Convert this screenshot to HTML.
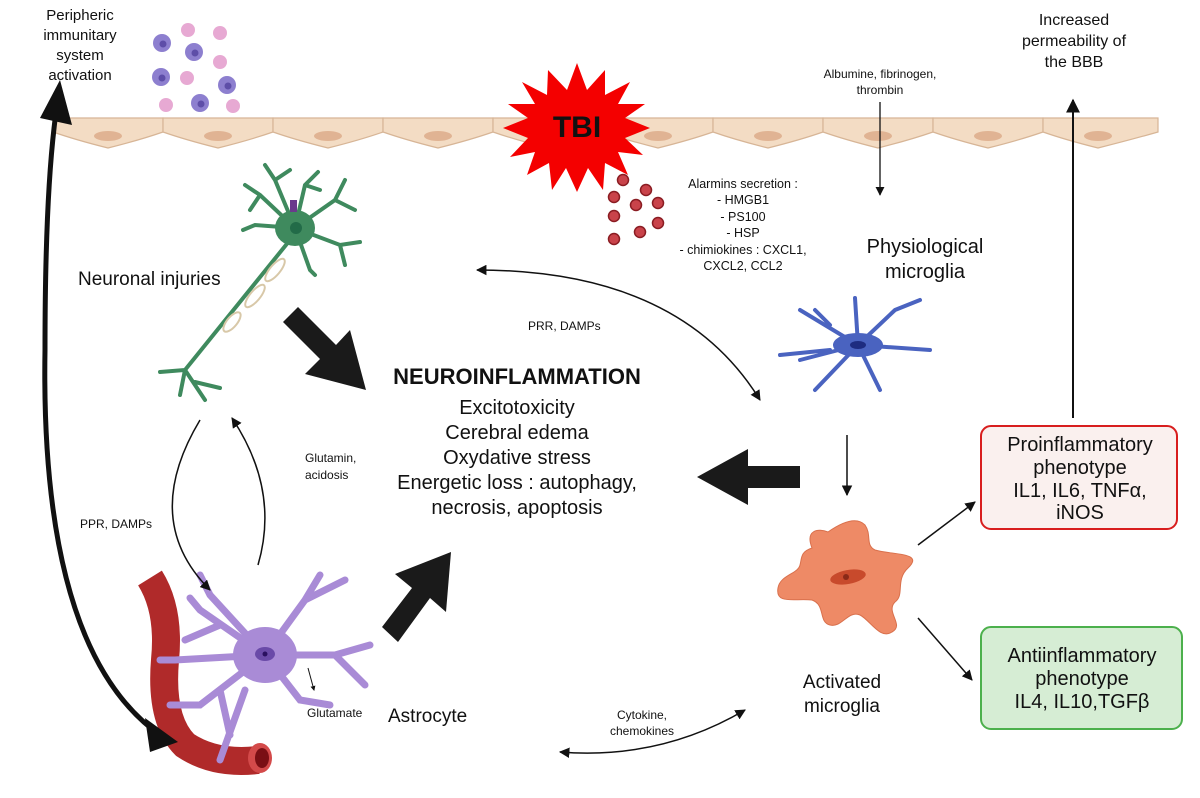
<!DOCTYPE html>
<html><head><meta charset="utf-8"><style>
html,body{margin:0;padding:0;background:#fff}
svg{display:block}
text{font-family:"Liberation Sans",sans-serif;fill:#111}
</style></head><body>
<svg width="1200" height="798" viewBox="0 0 1200 798" xmlns="http://www.w3.org/2000/svg">
<defs>
<marker id="a" viewBox="0 0 10 10" refX="9" refY="5" markerWidth="7" markerHeight="7" orient="auto-start-reverse"><path d="M0,0L10,5L0,10z" fill="#111"/></marker>
<marker id="ab" viewBox="0 0 10 10" refX="8" refY="5" markerWidth="5" markerHeight="5" orient="auto-start-reverse"><path d="M0,0L10,5L0,10z" fill="#111"/></marker>
</defs>

<!-- membrane -->
<g fill="#f3dcc4" stroke="#d7b596" stroke-width="1.2">
<path d="M53,118 H163 V132 Q140,140 108,148 Q76,140 53,132 Z"/>
<path d="M163,118 H273 V132 Q250,140 218,148 Q186,140 163,132 Z"/>
<path d="M273,118 H383 V132 Q360,140 328,148 Q296,140 273,132 Z"/>
<path d="M383,118 H493 V132 Q470,140 438,148 Q406,140 383,132 Z"/>
<path d="M493,118 H603 V132 Q580,140 548,148 Q516,140 493,132 Z"/>
<path d="M603,118 H713 V132 Q690,140 658,148 Q626,140 603,132 Z"/>
<path d="M713,118 H823 V132 Q800,140 768,148 Q736,140 713,132 Z"/>
<path d="M823,118 H933 V132 Q910,140 878,148 Q846,140 823,132 Z"/>
<path d="M933,118 H1043 V132 Q1020,140 988,148 Q956,140 933,132 Z"/>
<path d="M1043,118 H1158 V132 Q1130,140 1098,148 Q1066,140 1043,132 Z"/>
</g>
<g fill="#e0b393">
<ellipse cx="108" cy="136" rx="14" ry="5"/><ellipse cx="218" cy="136" rx="14" ry="5"/><ellipse cx="328" cy="136" rx="14" ry="5"/><ellipse cx="438" cy="136" rx="14" ry="5"/><ellipse cx="658" cy="136" rx="14" ry="5"/><ellipse cx="768" cy="136" rx="14" ry="5"/><ellipse cx="878" cy="136" rx="14" ry="5"/><ellipse cx="988" cy="136" rx="14" ry="5"/><ellipse cx="1098" cy="136" rx="14" ry="5"/>
</g>

<!-- immune cells -->
<g>
<g fill="#8d7fcf"><circle cx="162" cy="43" r="9"/><circle cx="194" cy="52" r="9"/><circle cx="161" cy="77" r="9"/><circle cx="227" cy="85" r="9"/><circle cx="200" cy="103" r="9"/></g>
<g fill="#5e4ea8"><circle cx="163" cy="44" r="3.5"/><circle cx="195" cy="53" r="3.5"/><circle cx="162" cy="78" r="3.5"/><circle cx="228" cy="86" r="3.5"/><circle cx="201" cy="104" r="3.5"/></g>
<g fill="#e7a9d3"><circle cx="188" cy="30" r="7"/><circle cx="220" cy="33" r="7"/><circle cx="220" cy="62" r="7"/><circle cx="187" cy="78" r="7"/><circle cx="166" cy="105" r="7"/><circle cx="233" cy="106" r="7"/></g>
</g>

<!-- TBI star -->
<polygon fill="#f40000" points="577,63 587,90 605,70 605,95 630,82 618,104 645,104 625,118 650,128 625,138 643,155 618,152 628,175 605,163 603,190 588,168 577,192 566,168 552,190 549,163 527,175 535,152 510,157 528,138 503,128 528,118 508,104 535,104 522,82 547,95 548,70 567,90"/>
<text x="577" y="137" font-size="30" font-weight="bold" text-anchor="middle">TBI</text>

<!-- red dots -->
<g fill="#c9434a" stroke="#8a1c22" stroke-width="1.5">
<circle cx="623" cy="180" r="5.5"/><circle cx="614" cy="197" r="5.5"/><circle cx="646" cy="190" r="5.5"/><circle cx="636" cy="205" r="5.5"/><circle cx="658" cy="203" r="5.5"/><circle cx="614" cy="216" r="5.5"/><circle cx="658" cy="223" r="5.5"/><circle cx="640" cy="232" r="5.5"/><circle cx="614" cy="239" r="5.5"/>
</g>

<!-- texts top -->
<text font-size="15" text-anchor="middle"><tspan x="80" y="20">Peripheric</tspan><tspan x="80" y="40">immunitary</tspan><tspan x="80" y="60">system</tspan><tspan x="80" y="80">activation</tspan></text>
<text font-size="16" text-anchor="middle"><tspan x="1074" y="25">Increased</tspan><tspan x="1074" y="46">permeability of</tspan><tspan x="1074" y="67">the BBB</tspan></text>
<text font-size="12" text-anchor="middle"><tspan x="880" y="78">Albumine, fibrinogen,</tspan><tspan x="880" y="94">thrombin</tspan></text>
<text font-size="12.5" text-anchor="middle"><tspan x="743" y="188">Alarmins secretion :</tspan><tspan x="743" y="204">- HMGB1</tspan><tspan x="743" y="221">- PS100</tspan><tspan x="743" y="237">- HSP</tspan><tspan x="743" y="254">- chimiokines : CXCL1,</tspan><tspan x="743" y="270">CXCL2, CCL2</tspan></text>
<text font-size="20" text-anchor="middle"><tspan x="925" y="253">Physiological</tspan><tspan x="925" y="278">microglia</tspan></text>

<line x1="880" y1="102" x2="880" y2="195" stroke="#111" stroke-width="1.3" marker-end="url(#a)"/>
<line x1="1073" y1="418" x2="1073" y2="100" stroke="#111" stroke-width="2" marker-end="url(#a)"/>

<!-- neuron -->
<g stroke="#3f8a5e" stroke-width="4" fill="none" stroke-linecap="round">
<path d="M295,228 L260,195 L245,185 M260,195 L250,210"/>
<path d="M295,228 L275,180 L265,165 M275,180 L290,170"/>
<path d="M295,228 L305,185 L318,172 M305,185 L320,190"/>
<path d="M295,228 L335,200 L345,180 M335,200 L355,210"/>
<path d="M295,228 L340,245 L360,242 M340,245 L345,265"/>
<path d="M295,228 L255,225 L243,230"/>
<path d="M295,228 L310,270 L315,275"/>
<path d="M290,240 L185,370 L160,372 M185,370 L180,395 M185,370 L205,400 M195,382 L220,388"/>
</g>
<ellipse cx="295" cy="228" rx="20" ry="18" fill="#3f8a5e"/>
<circle cx="296" cy="228" r="6" fill="#226b48"/>
<rect x="290" y="200" width="7" height="12" fill="#6a3a8c"/>
<g fill="none" stroke="#d8c8a8" stroke-width="2"><ellipse cx="275" cy="270" rx="5" ry="14" transform="rotate(40 275 270)"/><ellipse cx="255" cy="296" rx="5" ry="14" transform="rotate(40 255 296)"/><ellipse cx="232" cy="322" rx="5" ry="12" transform="rotate(40 232 322)"/></g>
<text x="78" y="285" font-size="19">Neuronal injuries</text>

<!-- astrocyte & vessel -->
<path d="M150,578 Q170,610 165,660 Q160,720 185,745 Q215,765 258,760" fill="none" stroke="#b02a2a" stroke-width="28"/>
<ellipse cx="260" cy="758" rx="12" ry="15" fill="#d34a4a"/>
<ellipse cx="262" cy="758" rx="7" ry="10" fill="#7a0f14"/>
<g stroke="#a98bd6" stroke-width="7" fill="none" stroke-linecap="round">
<path d="M265,655 L200,610 L190,598 M220,625 L185,640"/>
<path d="M265,655 L210,595 L200,575"/>
<path d="M265,655 L305,600 L320,575 M305,600 L345,580"/>
<path d="M265,655 L335,655 L370,645 M335,655 L365,685"/>
<path d="M265,655 L300,700 L330,705"/>
<path d="M265,655 L175,660 L160,660"/>
<path d="M265,655 L200,705 L170,705 M220,690 L230,735 M245,690 L220,760"/>
</g>
<ellipse cx="265" cy="655" rx="32" ry="28" fill="#a98bd6"/>
<ellipse cx="265" cy="654" rx="10" ry="7" fill="#6a4aa8"/>
<circle cx="265" cy="654" r="2.5" fill="#2a1060"/>
<line x1="308" y1="668" x2="314" y2="690" stroke="#111" stroke-width="1" marker-end="url(#ab)"/>
<text x="307" y="717" font-size="12">Glutamate</text>
<text x="388" y="722" font-size="19">Astrocyte</text>

<!-- blue microglia -->
<g stroke="#4a63c0" stroke-width="4" fill="none" stroke-linecap="round">
<path d="M858,345 L800,310 M830,325 L815,310 M858,345 L855,298 M858,345 L895,310 L920,300 M858,345 L930,350 M858,345 L880,390 M858,345 L815,390 M858,345 L800,360 M830,350 L780,355"/>
</g>
<ellipse cx="858" cy="345" rx="25" ry="12" fill="#4a63c0"/>
<ellipse cx="858" cy="345" rx="8" ry="4" fill="#1e2c80"/>
<line x1="847" y1="435" x2="847" y2="495" stroke="#111" stroke-width="1.5" marker-end="url(#a)"/>

<!-- orange microglia -->
<path d="M812,548 C805,530 818,528 828,532 C838,525 855,515 865,525 C872,535 865,545 875,550 C892,555 925,552 908,568 C895,580 905,595 895,602 C885,612 905,625 892,632 C880,640 870,620 860,615 C848,610 842,628 830,625 C818,622 826,605 812,600 C795,598 775,605 778,588 C780,575 798,574 800,565 C802,558 800,552 812,548 Z" fill="#ee8a66" stroke="#d9704c" stroke-width="1"/>
<ellipse cx="848" cy="577" rx="18" ry="7" fill="#c84a2c" transform="rotate(-10 848 577)"/>
<circle cx="846" cy="577" r="3" fill="#8a2a18"/>
<text font-size="19" text-anchor="middle"><tspan x="842" y="688">Activated</tspan><tspan x="842" y="712">microglia</tspan></text>
<line x1="918" y1="545" x2="975" y2="502" stroke="#111" stroke-width="1.5" marker-end="url(#a)"/>
<line x1="918" y1="618" x2="972" y2="680" stroke="#111" stroke-width="1.5" marker-end="url(#a)"/>

<!-- boxes -->
<rect x="981" y="426" width="196" height="103" rx="10" fill="#faf0ee" stroke="#d81e1e" stroke-width="2"/>
<text font-size="20" text-anchor="middle"><tspan x="1080" y="451">Proinflammatory</tspan><tspan x="1080" y="474">phenotype</tspan><tspan x="1080" y="497">IL1, IL6, TNFα,</tspan><tspan x="1080" y="519">iNOS</tspan></text>
<rect x="981" y="627" width="201" height="102" rx="10" fill="#d6edd4" stroke="#4cb04c" stroke-width="2"/>
<text font-size="20" text-anchor="middle"><tspan x="1082" y="662">Antiinflammatory</tspan><tspan x="1082" y="685">phenotype</tspan><tspan x="1082" y="708">IL4, IL10,TGFβ</tspan></text>

<!-- center text -->
<text font-size="22" font-weight="bold" text-anchor="middle" x="517" y="384">NEUROINFLAMMATION</text>
<text font-size="20" text-anchor="middle"><tspan x="517" y="414">Excitotoxicity</tspan><tspan x="517" y="439">Cerebral edema</tspan><tspan x="517" y="464">Oxydative stress</tspan><tspan x="517" y="489">Energetic loss : autophagy,</tspan><tspan x="517" y="514">necrosis, apoptosis</tspan></text>

<!-- big arrows -->
<g fill="#1a1a1a">
<polygon points="283,322 298,307 336,345 350,330 366,390 305,374 320,359"/>
<polygon points="800,466 800,488 748,488 748,505 697,477 748,449 748,466"/>
<polygon points="382,627 398,642 430,598 446,612 451,552 395,574 412,588"/>
</g>

<!-- curved arrows -->
<path d="M477,270 Q680,270 760,400" fill="none" stroke="#111" stroke-width="1.5" marker-start="url(#a)" marker-end="url(#a)"/>
<text x="528" y="330" font-size="12">PRR, DAMPs</text>
<path d="M200,420 Q140,520 210,590" fill="none" stroke="#111" stroke-width="1.5" marker-end="url(#a)"/>
<path d="M258,565 Q280,490 232,418" fill="none" stroke="#111" stroke-width="1.5" marker-end="url(#a)"/>
<text x="80" y="528" font-size="12">PPR, DAMPs</text>
<text font-size="12"><tspan x="305" y="462">Glutamin,</tspan><tspan x="305" y="479">acidosis</tspan></text>
<path d="M560,752 Q660,760 745,710" fill="none" stroke="#111" stroke-width="1.5" marker-start="url(#a)" marker-end="url(#a)"/>
<text font-size="12" text-anchor="middle"><tspan x="642" y="719">Cytokine,</tspan><tspan x="642" y="735">chemokines</tspan></text>

<!-- big left loop -->
<path d="M160,735 Q40,650 45,350 Q45,200 55,120" fill="none" stroke="#111" stroke-width="5"/>
<polygon points="40,118 60,80 72,125" fill="#111"/>
<polygon points="145,718 178,742 150,752" fill="#111"/>
</svg>
</body></html>
